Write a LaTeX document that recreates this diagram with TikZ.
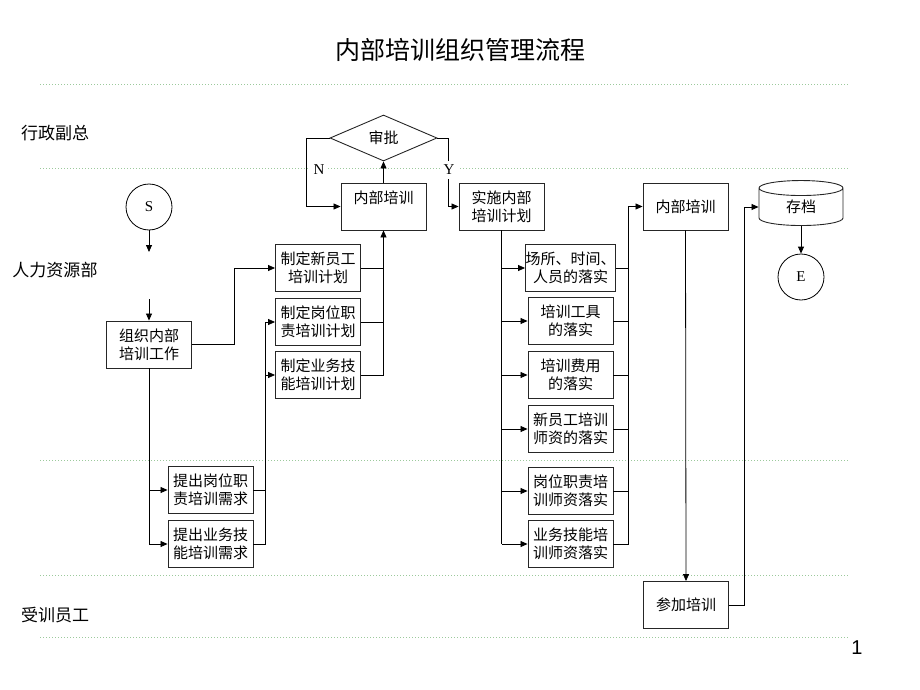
\documentclass[tikz,border=0pt]{standalone}
\usepackage{fontspec}
\setmainfont{Liberation Serif}
\newfontfamily\cjk{Noto Sans CJK SC}
\newfontfamily\pagefont{Liberation Sans}
\usetikzlibrary{arrows.meta,shapes.geometric}
\begin{document}
\begin{tikzpicture}[x=1pt,y=-1pt,
    box/.style={draw=black!85,line width=0.9pt,minimum width=85,minimum height=47,inner sep=0pt,align=center,font=\cjk\fontsize{15}{18}\selectfont},
    term/.style={draw,line width=0.8pt,circle,minimum size=46,inner sep=0pt,font=\fontsize{15}{18}\selectfont},
    flow/.style={line width=0.8pt,-{Triangle[length=7pt,width=6pt]}},
    lane/.style={draw=gray!70!green!60,line width=0.8pt,dash pattern=on 1pt off 2pt},
    lanename/.style={font=\cjk\fontsize{17}{20}\selectfont}]
    \useasboundingbox (0,0) rectangle (920,690);
    \node[font=\cjk\fontsize{25}{28}\selectfont] (title) at (460,50) {内部培训组织管理流程};
    \foreach \y in {84,168,460,575,637}
      \draw[lane] (40,\y) -- (849,\y);
    \node[lanename] (lane1) at (55,133) {行政副总};
    \node[lanename] (lane2) at (55,270) {人力资源部};
    \node[lanename] (lane3) at (55,615) {受训员工};
    \node[font=\pagefont\fontsize{20}{22}\selectfont] (page) at (857,648) {1};

    \node[box,diamond,aspect=2.3,minimum width=107,minimum height=46] (approve) at (383.5,138) {审批};
    \node[box] (train1) at (383.5,206.5) {内部培训\\\mbox{}};
    \node[box] (impl) at (501.5,206.5) {实施内部\\培训计划};
    \node[term] (start) at (149,207) {S};
    \node[box] (org) at (149,344.5) {组织内部\\培训工作};
    \node[box] (plan1) at (318,268) {制定新员工\\培训计划};
    \node[box] (plan2) at (318,322) {制定岗位职\\责培训计划};
    \node[box] (plan3) at (318,375) {制定业务技\\能培训计划};
    \node[box] (need1) at (210.5,490) {提出岗位职\\责培训需求};
    \node[box] (need2) at (210.5,544) {提出业务技\\能培训需求};
    \node[box] (r1) at (570.5,268) {场所、时间、\\人员的落实};
    \node[box] (r2) at (570.5,321) {培训工具\\的落实};
    \node[box] (r3) at (570.5,375) {培训费用\\的落实};
    \node[box] (r4) at (570.5,429) {新员工培训\\师资的落实};
    \node[box] (r5) at (570.5,491) {岗位职责培\\训师资落实};
    \node[box] (r6) at (570.5,544) {业务技能培\\训师资落实};
    \node[box] (train2) at (685.5,206.5) {内部培训};
    \node[box] (attend) at (686,605) {参加培训};
    \node[box,cylinder,shape border rotate=90,aspect=0.5,minimum width=84,minimum height=45] (archive) at (801,207) {存档};
    \node[term] (finish) at (801,277) {E};

    \coordinate (s1) at (149,252);
    \coordinate (s2) at (149,299);
    \draw[flow] (start.south) -- (s1);
    \draw[flow] (s2) -- (org.north);
    \draw[flow] (org.east) -- ++(42,0) |- (plan1.west);
    \draw[flow] (org.south) |- (need2.west);
    \draw[flow] (org.south |- need1.west) -- (need1.west);
    \coordinate (nj) at ([xshift=12]need2.east);
    \draw (need1.east) -- (need1.east -| nj);
    \draw[flow] (need2.east) -- (nj) |- (plan2.west);
    \draw[flow] (nj |- plan3.west) -- (plan3.west);
    \draw[flow] (plan3.east) -| (train1.south);
    \draw (plan1.east) -- (plan1.east -| train1.south);
    \draw (plan2.east) -- (plan2.east -| train1.south);
    \draw[flow] (train1.north) -- (approve.south);
    \draw[flow] (approve.west) -- ++(-23,0) |- (train1.west);
    \draw[flow] (approve.east) -- ++(11,0) |- (impl.west);
    \node[fill=white,inner sep=4pt,font=\fontsize{15}{18}\selectfont] (no) at (319,170) {N};
    \node[fill=white,inner sep=4pt,font=\fontsize{15}{18}\selectfont] (yes) at (449,170) {Y};
    \draw[line width=1.5pt] (impl.south) -- (impl.south |- r6.west);
    \foreach \i in {1,...,6}
      \draw[flow] (impl.south |- r\i.west) -- (r\i.west);
    \coordinate (rj) at ([xshift=15]r6.east);
    \draw[flow] (r6.east) -- (rj) |- (train2.west);
    \foreach \i in {1,...,5}
      \draw (r\i.east) -- (r\i.east -| rj);
    \draw[flow] (train2.south) -- (attend.north);
    \draw[flow] (attend.east) -- ++(15,0) |- (archive.west);
    \draw[flow] (archive.south) -- (finish.north);
\end{tikzpicture}
\end{document}
